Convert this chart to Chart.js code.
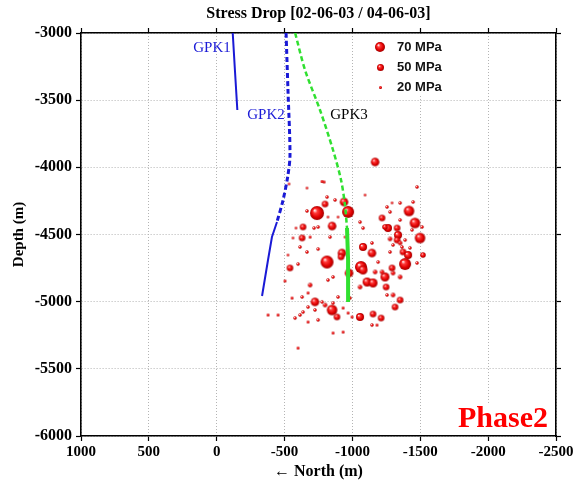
<!DOCTYPE html>
<html><head><meta charset="utf-8">
<script src="https://cdn.jsdelivr.net/npm/chart.js@4.4.0/dist/chart.umd.min.js"></script>
<style>html,body{margin:0;padding:0;background:#fff;}canvas{display:block;}</style>
</head><body>
<canvas id="c" width="580" height="483"></canvas>
<script>
// ---- data (North in m, Depth in m, stress drop in MPa) ----
const titleText = 'Stress Drop [02-06-03 / 04-06-03]';
const xTitle = '\u2190 North (m)';
const yTitle = 'Depth (m)';
const phaseText = 'Phase2';
const legendValues = [70, 50, 20];

const gpk1North = [-118, -135, -152];
const gpk1Depth = [-3000, -3290, -3573];
const gpk2DashNorth = [-511, -525, -540, -525, -489, -444];
const gpk2DashDepth = [-3000, -3424, -3908, -4057, -4243, -4407];
const gpk2SolidNorth = [-444, -407, -378, -334];
const gpk2SolidDepth = [-4407, -4519, -4690, -4958];
const gpk3DashNorth = [-578, -651, -761, -857, -916, -945, -960];
const gpk3DashDepth = [-3000, -3276, -3573, -3871, -4094, -4280, -4452];
const gpk3SolidNorth = [-960, -968, -968];
const gpk3SolidDepth = [-4452, -4690, -5002];

const wellLabels = ['GPK1', 'GPK2', 'GPK3'];
const wellLabelNorth = [35, -363, -975];
const wellLabelDepth = [-3112, -3610, -3610];
const wellLabelColors = ['#1a1ad6', '#1a1ad6', '#000000'];

const eventNorth = [-1167,-791,-776,-665,-1476,-813,-872,-938,-1093,-798,-739,-968,-665,-850,-636,-717,-747,-894,-1056,-1078,
 -629,-562,-688,-945,-1078,-923,-747,-665,-614,-1144,-1144,-1417,-1461,-1498,-1277,-1351,-1292,-1218,-1351,-1262,
 -1329,-1336,-1329,-1299,-1388,-1365,-1373,-1410,-1277,-1439,-1513,-1388,-1520,-1476,-1240,-1299,-1248,-1299,-1351,-1240,
 -1277,-1351,-1447,-1255,-1424,-813,-916,-540,-599,-503,-975,-1063,-1078,-1108,-1152,-1292,-1056,-1189,-1218,-1167,
 -857,-820,-688,-673,-629,-555,-724,-776,-850,-798,-857,-894,-982,-931,-886,-673,-636,-724,-747,-673,
 -614,-577,-452,-378,-1056,-1152,-1211,-1181,-1144,-1314,-1351,-1255,-931,-857,-599,-997,-968,-533,-525,-584,
 -835,-820];
const eventDepth = [-3960,-4109,-4105,-4154,-4146,-4221,-4243,-4258,-4206,-4273,-4340,-4332,-4325,-4437,-4444,-4452,-4444,-4370,-4407,-4452,
 -4526,-4526,-4519,-4519,-4593,-4638,-4608,-4630,-4593,-4563,-4638,-4325,-4414,-4526,-4332,-4265,-4265,-4377,-4392,-4452,
 -4452,-4504,-4541,-4578,-4541,-4593,-4630,-4653,-4630,-4466,-4444,-4720,-4653,-4712,-4816,-4787,-4891,-4950,-4816,-4444,
 -4533,-4563,-4258,-4295,-4600,-4705,-4667,-4749,-4720,-4846,-4787,-4742,-4764,-4854,-4861,-4749,-4891,-4705,-4779,-4779,
 -4816,-4839,-4876,-4935,-4965,-4973,-5002,-5002,-5062,-5025,-5010,-4965,-4973,-5047,-5114,-5040,-5077,-5062,-5136,-5151,
 -5099,-5122,-5099,-5099,-5114,-5092,-5122,-5174,-5174,-5040,-4988,-4950,-5226,-5233,-5345,-5114,-5084,-4124,-4653,-4452,
 -4519,-4370];
const eventStress = [50,18,18,15,20,20,20,50,16,40,82,70,20,50,40,20,20,15,20,20,
 40,15,17,15,48,50,20,20,20,20,50,62,62,62,20,20,15,40,20,48,
 40,48,40,20,20,20,40,48,20,20,20,70,33,20,55,28,40,28,28,33,
 28,28,20,20,20,76,40,40,20,17,50,70,55,55,55,40,28,20,28,28,
 20,20,28,17,20,17,50,20,62,28,20,20,20,17,40,20,20,20,20,17,
 20,20,17,17,48,40,40,17,20,40,40,20,17,17,17,17,17,15,15,15,
 20,15];

// ---- rendering helpers ----
const SERIF = "'Liberation Serif', 'Times New Roman', serif";
const SANS = "'Liberation Sans', Arial, sans-serif";
const radiusFor = v => v * 0.084;
const spriteCache = {};
function sprite(r) {
  const key = (Math.round(r * 4) / 4).toFixed(2);
  if (spriteCache[key]) return spriteCache[key];
  const rr = Math.max(parseFloat(key), 1.3);
  const s = Math.ceil(rr * 2) + 2;
  const c = document.createElement('canvas');
  c.width = s; c.height = s;
  const g = c.getContext('2d');
  const cx = s / 2, cy = s / 2;
  const grad = g.createRadialGradient(cx - rr * 0.35, cy - rr * 0.4, rr * 0.05, cx, cy, rr);
  grad.addColorStop(0, '#fff0f0');
  grad.addColorStop(0.28, '#ff3a3a');
  grad.addColorStop(0.7, '#e00000');
  grad.addColorStop(1, '#a00000');
  g.fillStyle = grad;
  g.beginPath(); g.arc(cx, cy, rr, 0, Math.PI * 2); g.fill();
  spriteCache[key] = c;
  return c;
}

const pts = (xs, ys) => xs.map((x, i) => ({x, y: ys[i]}));
const BLUE = '#1a1ad6', GREEN = '#30e030';

const annot = {
  id: 'annot',
  afterDraw(chart) {
    const {ctx, chartArea: a, scales} = chart;
    const sx = scales.x, sy = scales.y;
    ctx.save();
    // legend box
    ctx.fillStyle = '#fff';
    ctx.fillRect(a.left + 282, a.top + 1, 122, 62);
    legendValues.forEach((v, i) => {
      const cy = a.top + 14 + i * 20;
      const img = sprite(radiusFor(v) * 0.85);
      ctx.drawImage(img, Math.round(a.left + 299 - img.width / 2), Math.round(cy - img.height / 2));
      ctx.fillStyle = '#111';
      ctx.font = 'bold 13px ' + SANS;
      ctx.textBaseline = 'middle';
      ctx.textAlign = 'left';
      ctx.fillText(v + ' MPa', a.left + 316, cy);
    });
    // well labels
    ctx.font = '15px ' + SERIF;
    ctx.textAlign = 'center';
    ctx.textBaseline = 'middle';
    wellLabels.forEach((t, i) => {
      ctx.fillStyle = wellLabelColors[i];
      ctx.fillText(t, sx.getPixelForValue(wellLabelNorth[i]), sy.getPixelForValue(wellLabelDepth[i]));
    });
    // Phase2
    ctx.font = 'bold 30px ' + SERIF;
    ctx.textAlign = 'right';
    ctx.textBaseline = 'alphabetic';
    const tw = ctx.measureText(phaseText).width;
    const px = a.right - 8, py = a.bottom - 9;
    ctx.fillStyle = '#fff';
    ctx.fillRect(px - tw - 2, py - 22, tw + 4, 28);
    ctx.fillStyle = '#ff0000';
    ctx.fillText(phaseText, px, py);
    ctx.restore();
  }
};

const gridOpts = {color: '#b4b4b4', lineWidth: 1, tickLength: 5, tickColor: '#000', tickWidth: 1.2};
const borderOpts = {display: true, color: '#000', width: 1.6, dash: [1, 2]};
const tickFont = {family: SERIF, size: 15, weight: 'bold'};
const plainTick = v => String(v);

new Chart(document.getElementById('c'), {
  type: 'scatter',
  data: {
    datasets: [
      {label: 'GPK1', data: pts(gpk1North, gpk1Depth), showLine: true, borderColor: BLUE, borderWidth: 2, pointRadius: 0, order: 0},
      {label: 'GPK2a', data: pts(gpk2DashNorth, gpk2DashDepth), showLine: true, borderColor: BLUE, borderWidth: 3, borderDash: [5, 3], pointRadius: 0, tension: 0.3, order: 0},
      {label: 'GPK2b', data: pts(gpk2SolidNorth, gpk2SolidDepth), showLine: true, borderColor: BLUE, borderWidth: 2, pointRadius: 0, order: 0},
      {label: 'GPK3a', data: pts(gpk3DashNorth, gpk3DashDepth), showLine: true, borderColor: GREEN, borderWidth: 2.5, borderDash: [5, 3], pointRadius: 0, tension: 0.3, order: 0},
      {label: 'GPK3b', data: pts(gpk3SolidNorth, gpk3SolidDepth), showLine: true, borderColor: GREEN, borderWidth: 4, pointRadius: 0, order: 0},
      {label: 'events', data: pts(eventNorth, eventDepth), showLine: false, order: 1,
       pointRadius: c => radiusFor(eventStress[c.dataIndex]),
       pointStyle: c => sprite(radiusFor(eventStress[c.dataIndex]))}
    ]
  },
  options: {
    responsive: false, animation: false, devicePixelRatio: 1,
    layout: {padding: 0},
    plugins: {legend: {display: false}, tooltip: {enabled: false}},
    scales: {
      x: {
        type: 'linear', position: 'bottom', min: -2500, max: 1000, reverse: true,
        ticks: {stepSize: 500, font: tickFont, color: '#000', padding: 2, maxRotation: 0, autoSkip: false, callback: plainTick},
        grid: gridOpts, border: borderOpts,
        title: {display: true, text: xTitle, color: '#000', font: {family: SERIF, size: 16, weight: 'bold'}, padding: {top: 0, bottom: 2}},
        afterFit: s => { s.height = 47; }
      },
      xTop: {
        type: 'linear', position: 'top', min: -2500, max: 1000, reverse: true,
        ticks: {display: false, stepSize: 500},
        grid: Object.assign({}, gridOpts, {drawOnChartArea: false}), border: borderOpts,
        title: {display: true, text: titleText, color: '#000', font: {family: SERIF, size: 16, weight: 'bold'}, padding: {top: 4, bottom: 0}},
        afterFit: s => { s.height = 33; }
      },
      y: {
        type: 'linear', position: 'left', min: -6000, max: -3000,
        ticks: {stepSize: 500, font: {family: SERIF, size: 16, weight: 'bold'}, color: '#000', padding: 4, callback: plainTick},
        grid: gridOpts, border: borderOpts,
        title: {display: true, text: yTitle, color: '#000', font: {family: SERIF, size: 15, weight: 'bold'}, padding: {top: 10, bottom: 0}},
        afterFit: s => { s.width = 81; }
      },
      y2: {
        type: 'linear', position: 'right', min: -6000, max: -3000,
        ticks: {display: false, stepSize: 500},
        grid: Object.assign({}, gridOpts, {drawOnChartArea: false}), border: borderOpts,
        afterFit: s => { s.width = 24; }
      }
    }
  },
  plugins: [annot]
});
</script>
</body></html>
